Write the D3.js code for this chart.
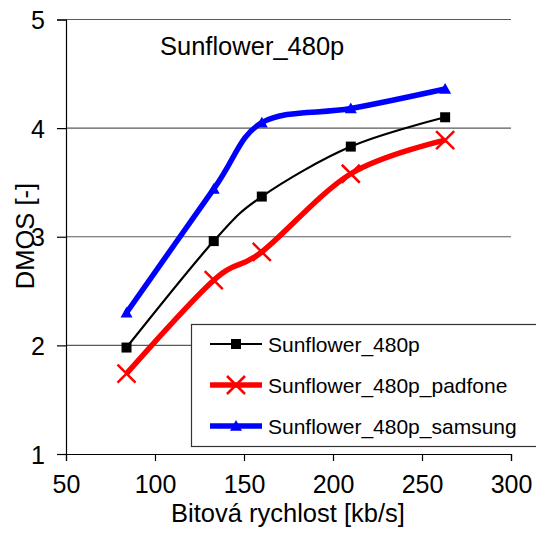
<!DOCTYPE html>
<html>
<head>
<meta charset="utf-8">
<script src="https://cdn.jsdelivr.net/npm/d3@7"></script>
<style>
  html, body { margin: 0; padding: 0; background: #fff; }
  svg { display: block; font-family: "Liberation Sans", Arial, sans-serif; }
</style>
</head>
<body>
<svg id="chart" width="536" height="535"></svg>
<script>
// Bit rates [kb/s] and DMOS scores per device
const bitrates = [84, 133, 160, 210, 263];
const dmosReference = [1.98, 2.96, 3.37, 3.83, 4.10];
const dmosPadfone   = [1.74, 2.60, 2.86, 3.58, 3.89];
const dmosSamsung   = [2.30, 3.44, 4.05, 4.18, 4.36];
const seriesNames = ["Sunflower_480p", "Sunflower_480p_padfone", "Sunflower_480p_samsung"];
const xTicks = [50, 100, 150, 200, 250, 300];
const yTicks = [1, 2, 3, 4, 5];

const svg = d3.select("#chart");
const plotLeft = 66, plotRight = 511, plotTop = 19.5, plotBottom = 454;

const x = d3.scaleLinear().domain([50, 300]).range([plotLeft, plotRight]);
const y = d3.scaleLinear().domain([1, 5]).range([plotBottom, plotTop]);

// horizontal gridlines
svg.append("g")
  .selectAll("line")
  .data(yTicks.filter(v => v > 1))
  .join("line")
  .attr("x1", plotLeft).attr("x2", plotRight)
  .attr("y1", d => y(d)).attr("y2", d => y(d))
  .attr("stroke", "#5a5a5a").attr("stroke-width", 1.2);

// axes
const xAxis = svg.append("g")
  .attr("transform", `translate(0,${plotBottom})`)
  .call(d3.axisBottom(x).tickValues(xTicks).tickSize(7).tickPadding(14));
const yAxis = svg.append("g")
  .attr("transform", `translate(${plotLeft},0)`)
  .call(d3.axisLeft(y).tickValues(yTicks).tickSize(9).tickPadding(12).tickFormat(d3.format("d")));

[xAxis, yAxis].forEach(g => {
  g.select(".domain").attr("stroke", "#000").attr("stroke-width", 1.2);
  g.selectAll(".tick line").attr("stroke", "#000").attr("stroke-width", 1.2);
  g.selectAll("text").attr("fill", "#000").attr("font-size", 25)
    .attr("font-family", "'Liberation Sans', Arial, sans-serif");
});
xAxis.selectAll("text").attr("dy", "0.71em");
yAxis.selectAll("text").attr("dy", "0.36em");

// axis titles
svg.append("text")
  .attr("x", 288).attr("y", 522)
  .attr("text-anchor", "middle").attr("font-size", 25.5)
  .text("Bitová rychlost [kb/s]");
svg.append("text")
  .attr("transform", "translate(34,236) rotate(-90)")
  .attr("text-anchor", "middle").attr("font-size", 25.5)
  .text("DMOS [-]");

// chart title
svg.append("text")
  .attr("x", 160).attr("y", 55)
  .attr("font-size", 25.5)
  .text("Sunflower_480p");

const series = [
  { name: seriesNames[0], values: dmosReference, color: "#000000", width: 2.2, marker: "square" },
  { name: seriesNames[1], values: dmosPadfone,   color: "#ff0000", width: 5.5, marker: "cross" },
  { name: seriesNames[2], values: dmosSamsung,   color: "#0000ff", width: 5.5, marker: "triangle" }
];

const line = d3.line()
  .x(d => x(d[0])).y(d => y(d[1]))
  .curve(d3.curveCatmullRom.alpha(0));

function drawMarker(g, kind, color, cx, cy) {
  if (kind === "square") {
    g.append("rect").attr("x", cx - 5).attr("y", cy - 5)
      .attr("width", 10).attr("height", 10).attr("fill", color);
  } else if (kind === "cross") {
    const s = 9;
    g.append("path")
      .attr("d", `M${cx - s},${cy - s}L${cx + s},${cy + s}M${cx - s},${cy + s}L${cx + s},${cy - s}`)
      .attr("stroke", color).attr("stroke-width", 2.5).attr("fill", "none");
  } else {
    const s = 6;
    g.append("path")
      .attr("d", `M${cx},${cy - s}L${cx + s},${cy + s * 0.8}L${cx - s},${cy + s * 0.8}Z`)
      .attr("fill", color);
  }
}

series.forEach(s => {
  const pts = bitrates.map((b, i) => [b, s.values[i]]);
  const g = svg.append("g");
  g.append("path").datum(pts)
    .attr("d", line).attr("fill", "none")
    .attr("stroke", s.color).attr("stroke-width", s.width)
    .attr("stroke-linejoin", "round");
  pts.forEach(p => drawMarker(g, s.marker, s.color, x(p[0]), y(p[1])));
});

// legend
const legend = svg.append("g");
legend.append("rect")
  .attr("x", 191.5).attr("y", 324.5).attr("width", 360).attr("height", 122)
  .attr("fill", "#fff").attr("stroke", "#333").attr("stroke-width", 1.2);
series.forEach((s, i) => {
  const ly = 344 + i * 41;
  legend.append("line")
    .attr("x1", 210).attr("x2", 262).attr("y1", ly).attr("y2", ly)
    .attr("stroke", s.color).attr("stroke-width", s.width);
  drawMarker(legend, s.marker, s.color, 236, ly);
  legend.append("text")
    .attr("x", 268).attr("y", ly).attr("dy", "0.36em")
    .attr("font-size", 21).text(s.name);
});
</script>
</body>
</html>
